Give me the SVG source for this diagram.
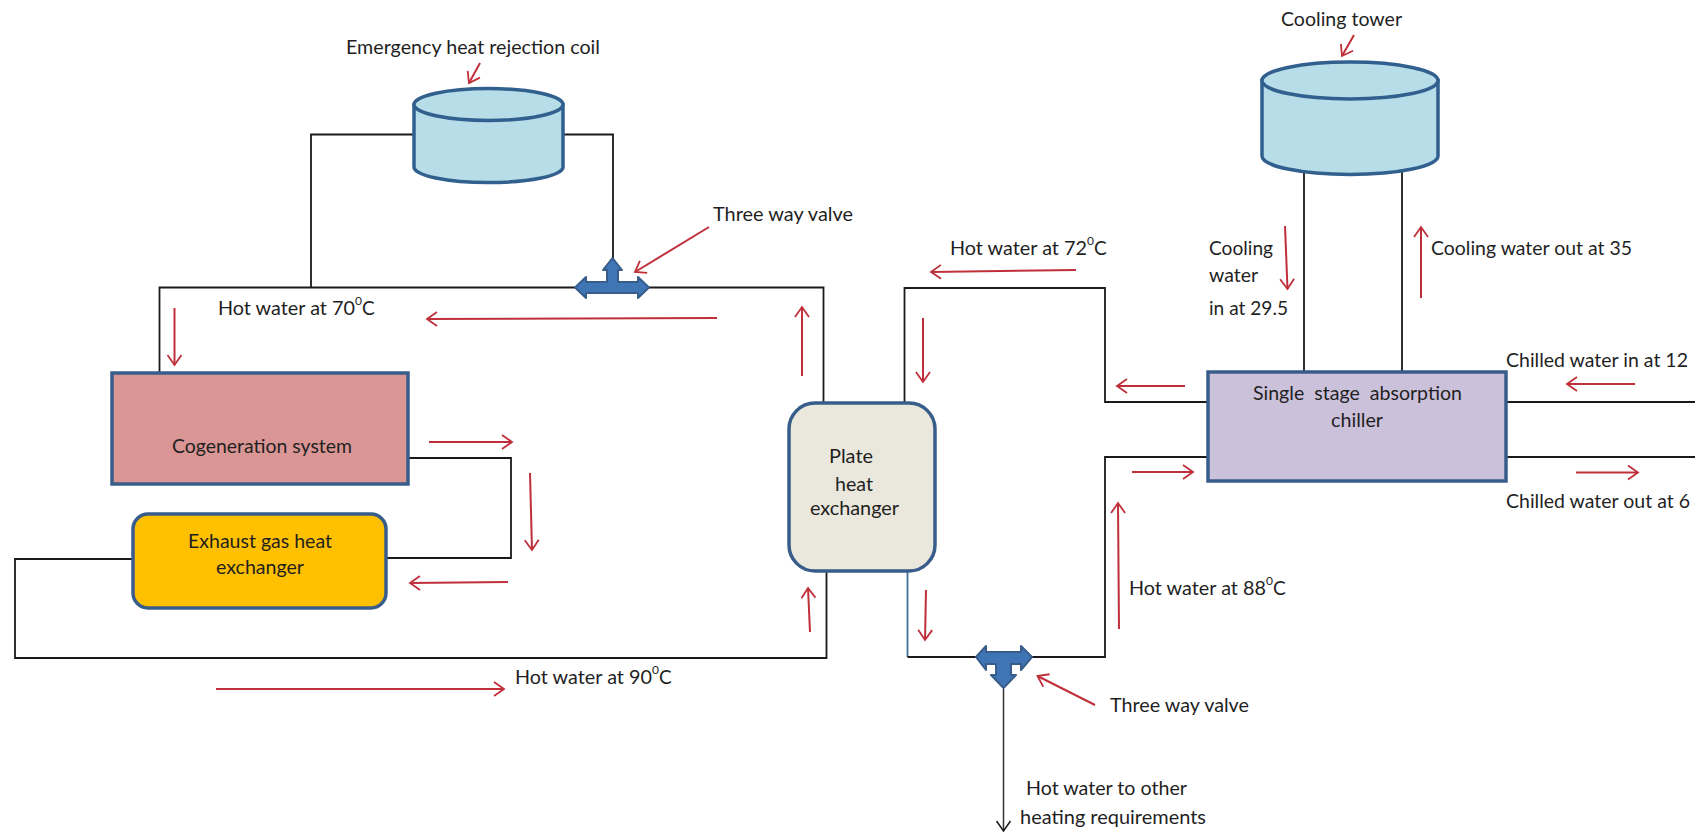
<svg xmlns="http://www.w3.org/2000/svg" width="1695" height="832" viewBox="0 0 1695 832">
<style>
text{font-family:Lato,"Liberation Sans",sans-serif;font-size:19px;fill:#1f1f1f;white-space:pre}
.sup{font-size:12px}
.box{stroke:#385d8a;stroke-width:3.500}
.tank{fill:#b7dde8;stroke:#31608f;stroke-width:3.500}
.valve{fill:#3f75b5;stroke:#385d8a;stroke-width:2;stroke-linejoin:round}
.pipe{fill:none;stroke:#1a1a1a;stroke-width:1.800}
.blue{stroke:#3f6f9f}
.flow{fill:none;stroke:#c0303a;stroke-width:2;marker-end:url(#v)}
.end{fill:none;stroke:#333;stroke-width:1.500;marker-end:url(#k)}
</style>
<defs>
<marker id="v" markerUnits="userSpaceOnUse" markerWidth="14" markerHeight="18" refX="12" refY="9" orient="auto"><path d="M2,2 L12,9 L2,16" fill="none" stroke="#c0303a" stroke-width="1.800"/></marker>
<marker id="k" markerUnits="userSpaceOnUse" markerWidth="14" markerHeight="18" refX="12" refY="9" orient="auto"><path d="M2,2 L12,9 L2,16" fill="none" stroke="#1a1a1a" stroke-width="1.500"/></marker>
</defs>
<rect width="1695" height="832" fill="#fff"/>
<g id="connectors">
<path class="pipe" d="M414,134.500 H311 V288"/>
<path class="pipe" d="M563,134.500 H613 V260"/>
<path class="pipe" d="M159.500,373 V287.500 H823.500 V404"/>
<path class="pipe" d="M408,458 H511 V558 H387"/>
<path class="pipe" d="M133,559 H15 V658 H826.500 V571"/>
<path class="pipe" d="M904.500,404 V288 H1105 V402 H1208"/>
<path class="pipe blue" d="M907.500,571 V657"/>
<path class="pipe" d="M907.500,657 H1105 V457 H1208"/>
<path class="pipe" d="M1304,172 V372"/>
<path class="pipe" d="M1402,172 V372"/>
<path class="pipe" d="M1506,402 H1695"/>
<path class="pipe" d="M1506,457 H1695"/>
<path class="end" d="M1003.500,689 V831"/>
<path class="flow" d="M480,63 L469,83"/>
<path class="flow" d="M709,227 L635,272"/>
<path class="flow" d="M717,318 L427,319"/>
<path class="flow" d="M802,376 V307"/>
<path class="flow" d="M174.500,308 V365"/>
<path class="flow" d="M429,442 H512"/>
<path class="flow" d="M530,473 L532,550"/>
<path class="flow" d="M508,582 L410,583"/>
<path class="flow" d="M810,632 L808,588"/>
<path class="flow" d="M216,689 H504"/>
<path class="flow" d="M1354,35 L1342,56"/>
<path class="flow" d="M1285,226 L1287.500,289"/>
<path class="flow" d="M1421,298 V227"/>
<path class="flow" d="M1076,270 L931,272"/>
<path class="flow" d="M923,318 V382"/>
<path class="flow" d="M1185,386 H1117"/>
<path class="flow" d="M1635,384 H1567"/>
<path class="flow" d="M1132,472 H1193"/>
<path class="flow" d="M1119,629 L1118,503"/>
<path class="flow" d="M1576,472.500 H1638"/>
<path class="flow" d="M926,590 L925,640"/>
<path class="flow" d="M1095,705 L1037.500,676"/>
</g>
<g id="emergency-coil">
<path class="tank" d="M414,105 V167 A74.500,15.500 0 0 0 563,167 V105 Z"/>
<ellipse class="tank" cx="488.500" cy="104.500" rx="74.500" ry="16"/>
</g>
<g id="cooling-tower">
<path class="tank" d="M1262,80.500 V156 A88,18.500 0 0 0 1438,156 V80.500 Z"/>
<ellipse class="tank" cx="1350" cy="80.500" rx="88" ry="18.500"/>
</g>
<g id="cogeneration">
<rect class="box" x="112" y="373" width="296" height="111" fill="#d99694"/>
<text x="172" y="453" textLength="180" lengthAdjust="spacingAndGlyphs">Cogeneration system</text>
</g>
<g id="exhaust-hx">
<rect class="box" x="133" y="514" width="253" height="94" rx="15" fill="#ffc000"/>
<text x="188" y="548" textLength="144" lengthAdjust="spacingAndGlyphs">Exhaust gas heat</text>
<text x="216" y="574" textLength="88" lengthAdjust="spacingAndGlyphs">exchanger</text>
</g>
<g id="plate-hx">
<rect class="box" x="789" y="403" width="146" height="168" rx="26" fill="#eae8dc"/>
<text x="829" y="463" textLength="44" lengthAdjust="spacingAndGlyphs">Plate</text>
<text x="835" y="491" textLength="38" lengthAdjust="spacingAndGlyphs">heat</text>
<text x="810" y="515" textLength="89" lengthAdjust="spacingAndGlyphs">exchanger</text>
</g>
<g id="chiller">
<rect class="box" x="1208" y="372" width="298" height="109" fill="#ccc1da"/>
<text x="1253" y="400" textLength="209" lengthAdjust="spacingAndGlyphs">Single  stage  absorption</text>
<text x="1331" y="427" textLength="52" lengthAdjust="spacingAndGlyphs">chiller</text>
</g>
<g id="valve-top">
<path class="valve" d="M575,287.500 L586,277 V282 H607 V270 H603 L612.500,258 L622,270 H618 V282 H638 V277 L649,287.500 L638,298 V293 H586 V298 Z"/>
</g>
<g id="valve-bottom">
<path class="valve" d="M976,657 L986,646 V652 H1021 V646 L1032,657 L1021,670 V664 H1011 V675 H1016 L1003.500,688 L991,675 H996 V664 H986 V670 Z"/>
</g>
<g id="labels">
<text x="346" y="54" textLength="254" lengthAdjust="spacingAndGlyphs">Emergency heat rejection coil</text>
<text x="713" y="221" textLength="140" lengthAdjust="spacingAndGlyphs">Three way valve</text>
<text x="218" y="315"><tspan textLength="137" lengthAdjust="spacingAndGlyphs">Hot water at 70</tspan><tspan class="sup" x="355" dy="-10">0</tspan><tspan x="362" dy="10">C</tspan></text>
<text x="515" y="684"><tspan textLength="137" lengthAdjust="spacingAndGlyphs">Hot water at 90</tspan><tspan class="sup" x="652" dy="-10">0</tspan><tspan x="659" dy="10">C</tspan></text>
<text x="950" y="255"><tspan textLength="137" lengthAdjust="spacingAndGlyphs">Hot water at 72</tspan><tspan class="sup" x="1087" dy="-10">0</tspan><tspan x="1094" dy="10">C</tspan></text>
<text x="1129" y="595"><tspan textLength="137" lengthAdjust="spacingAndGlyphs">Hot water at 88</tspan><tspan class="sup" x="1266" dy="-10">0</tspan><tspan x="1273" dy="10">C</tspan></text>
<text x="1281" y="26" textLength="121" lengthAdjust="spacingAndGlyphs">Cooling tower</text>
<text x="1209" y="255" textLength="64" lengthAdjust="spacingAndGlyphs">Cooling</text>
<text x="1209" y="282" textLength="49" lengthAdjust="spacingAndGlyphs">water</text>
<text x="1209" y="315" textLength="79" lengthAdjust="spacingAndGlyphs">in at 29.5</text>
<text x="1431" y="255" textLength="201" lengthAdjust="spacingAndGlyphs">Cooling water out at 35</text>
<text x="1506" y="367" textLength="182" lengthAdjust="spacingAndGlyphs">Chilled water in at 12</text>
<text x="1506" y="508" textLength="184" lengthAdjust="spacingAndGlyphs">Chilled water out at 6</text>
<text x="1110" y="712" textLength="139" lengthAdjust="spacingAndGlyphs">Three way valve</text>
<text x="1026" y="795" textLength="161" lengthAdjust="spacingAndGlyphs">Hot water to other</text>
<text x="1020" y="824" textLength="186" lengthAdjust="spacingAndGlyphs">heating requirements</text>
</g>
</svg>
